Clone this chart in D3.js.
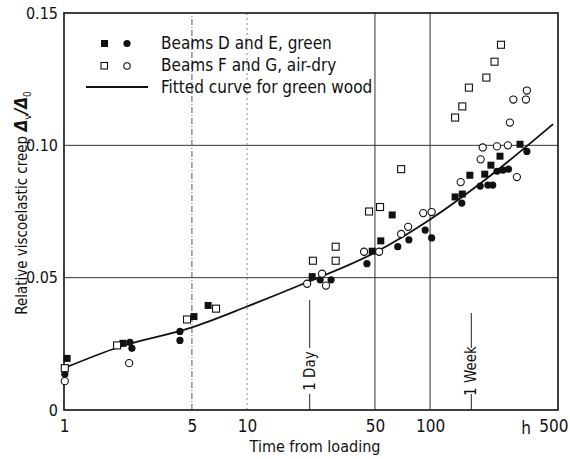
<!DOCTYPE html>
<html>
<head>
<meta charset="utf-8">
<script src="https://cdn.jsdelivr.net/npm/d3@7"></script>
<style>
  body { margin: 0; background: #fff; }
  svg text { font-family: "Liberation Sans Narrow", "DejaVu Sans Condensed", "Roboto Condensed", sans-serif; fill: #111; }
</style>
</head>
<body>
<div id="chart"></div>
<script>
// ---- data (time in h, relative creep) ----
const greenSqT = [1.04, 2.10, 5.13, 6.13, 22.7, 48.3, 53.8, 62.1, 137, 150, 165, 199, 215, 241, 310];
const greenSqV = [0.0195, 0.0252, 0.0353, 0.0395, 0.0504, 0.060, 0.0639, 0.0737, 0.0805, 0.0816, 0.0887, 0.0891, 0.0925, 0.0959, 0.1004];

const greenCircT = [1.01, 2.29, 2.35, 4.30, 4.30, 25.1, 28.8, 45.2, 66.6, 76.6, 94, 102, 149, 188, 207, 220, 232, 250, 268, 338];
const greenCircV = [0.0135, 0.0256, 0.0233, 0.0297, 0.0263, 0.0492, 0.0492, 0.0553, 0.0617, 0.0643, 0.068, 0.065, 0.0782, 0.0846, 0.085, 0.085, 0.0902, 0.0906, 0.091, 0.0977];

const drySqT = [1.01, 1.95, 4.70, 6.77, 22.9, 30.5, 30.5, 46.4, 53.3, 69.5, 137, 150, 163, 203, 225, 244];
const drySqV = [0.0158, 0.0244, 0.0342, 0.0383, 0.0564, 0.0564, 0.0617, 0.0750, 0.0767, 0.091, 0.1105, 0.1147, 0.1218, 0.1256, 0.1316, 0.138];

const dryCircT = [1.01, 2.27, 21.3, 25.7, 27.0, 43.6, 52.7, 69.5, 75.9, 91.7, 102, 147, 189, 194, 232, 266, 298, 273, 285, 334, 338];
const dryCircV = [0.0109, 0.0177, 0.0477, 0.0515, 0.047, 0.0598, 0.0598, 0.0665, 0.0692, 0.0744, 0.0748, 0.0861, 0.0947, 0.0992, 0.0996, 0.1, 0.088, 0.1086, 0.1173, 0.1173, 0.1207];

// fitted curve for green wood
const fitT = [1, 2, 5, 10, 20, 50, 100, 200, 470];
const fitV = [0.0158, 0.0238, 0.0312, 0.0391, 0.0475, 0.0595, 0.072, 0.087, 0.108];

const xTicks = [1, 5, 10, 50, 100, 500];
const yTicks = [0, 0.05, 0.10, 0.15];
const markers = [{ t: 22, label: "1 Day" }, { t: 168, label: "1 Week" }];

const legendRows = ["Beams D and E, green", "Beams F and G, air-dry", "Fitted curve for green wood"];

// ---- setup ----
const width = 570, height = 459;
const margin = { left: 64, right: 12, top: 13, bottom: 49 };

const svg = d3.select('#chart').append('svg')
  .attr('width', width)
  .attr('height', height);

const x = d3.scaleLog().domain([1, 500]).range([margin.left, width - margin.right]);
const y = d3.scaleLinear().domain([0, 0.15]).range([height - margin.bottom, margin.top]);

const zip = (ts, vs) => ts.map((t, i) => ({ t: t, v: vs[i] }));

// grid lines
const grid = svg.append('g');
grid.selectAll('line.h').data([0.05, 0.10]).enter().append('line')
  .attr('x1', x(1)).attr('x2', x(500))
  .attr('y1', d => y(d)).attr('y2', d => y(d))
  .attr('stroke', '#333').attr('stroke-width', 1);

const vgrid = [
  { t: 5, dash: '6,2,1,2', col: '#555' },
  { t: 10, dash: '2,3', col: '#888' },
  { t: 50, dash: null, col: '#333' },
  { t: 100, dash: null, col: '#333' }
];
grid.selectAll('line.v').data(vgrid).enter().append('line')
  .attr('x1', d => x(d.t)).attr('x2', d => x(d.t))
  .attr('y1', y(0)).attr('y2', y(0.15))
  .attr('stroke', d => d.col).attr('stroke-width', 1)
  .attr('stroke-dasharray', d => d.dash);

// frame
svg.append('rect')
  .attr('x', x(1)).attr('y', y(0.15))
  .attr('width', x(500) - x(1)).attr('height', y(0) - y(0.15))
  .attr('fill', 'none').attr('stroke', '#111').attr('stroke-width', 1.6);

// axes (labels only)
const xAxis = svg.append('g')
  .attr('transform', `translate(0,${y(0)})`)
  .call(d3.axisBottom(x).tickValues(xTicks).tickSize(0).tickPadding(10).tickFormat(d3.format('d')));
xAxis.select('.domain').remove();
xAxis.selectAll('text').attr('font-size', 17);
// last label sits partly past the frame, keep it inside the page
xAxis.selectAll('.tick').filter(d => d === 500).select('text')
  .attr('text-anchor', 'end').attr('x', 10);

svg.append('text').attr('x', x(500) - 27).attr('y', y(0) + 24)
  .attr('text-anchor', 'end').attr('font-size', 17).text('h');

const yAxis = svg.append('g')
  .attr('transform', `translate(${x(1)},0)`)
  .call(d3.axisLeft(y).tickValues(yTicks).tickSize(0).tickPadding(6)
    .tickFormat(d => d === 0 ? '0' : d3.format('.2f')(d)));
yAxis.select('.domain').remove();
yAxis.selectAll('text').attr('font-size', 16);

// axis titles
svg.append('text')
  .attr('x', 315).attr('y', 452)
  .attr('text-anchor', 'middle').attr('font-size', 16)
  .text('Time from loading');

const yt = svg.append('text')
  .attr('transform', 'translate(27,203) rotate(-90)')
  .attr('text-anchor', 'middle').attr('font-size', 15);
yt.append('tspan').text('Relative viscoelastic creep ');
yt.append('tspan').attr('font-weight', 'bold').attr('font-style', 'italic').attr('font-size', 17).text('Δ');
yt.append('tspan').attr('font-size', 10).attr('dy', 4).text('v');
yt.append('tspan').attr('font-weight', 'bold').attr('font-style', 'italic').attr('font-size', 17).attr('dy', -4).text('/Δ');
yt.append('tspan').attr('font-size', 10).attr('dy', 4).text('0');

// 1 day / 1 week markers
const mk = svg.append('g').selectAll('g').data(markers).enter().append('g');
mk.append('line')
  .attr('x1', d => x(d.t)).attr('x2', d => x(d.t))
  .attr('y1', (d, i) => i ? 313 : 300).attr('y2', 348)
  .attr('stroke', '#222').attr('stroke-width', 1);
mk.append('line')
  .attr('x1', d => x(d.t)).attr('x2', d => x(d.t))
  .attr('y1', 394).attr('y2', y(0))
  .attr('stroke', '#222').attr('stroke-width', 1);
mk.append('text')
  .attr('transform', d => `translate(${x(d.t) + 5},371) rotate(-90)`)
  .attr('text-anchor', 'middle').attr('font-size', 15)
  .text(d => d.label);

// fitted curve
const line = d3.line().x(d => x(d.t)).y(d => y(d.v)).curve(d3.curveMonotoneX);
svg.append('path').datum(zip(fitT, fitV))
  .attr('d', line).attr('fill', 'none')
  .attr('stroke', '#111').attr('stroke-width', 1.8);

// points
const pts = svg.append('g');
pts.selectAll('rect.gs').data(zip(greenSqT, greenSqV)).enter().append('rect')
  .attr('x', d => x(d.t) - 3.5).attr('y', d => y(d.v) - 3.5)
  .attr('width', 7).attr('height', 7).attr('fill', '#111');
pts.selectAll('circle.gc').data(zip(greenCircT, greenCircV)).enter().append('circle')
  .attr('cx', d => x(d.t)).attr('cy', d => y(d.v)).attr('r', 3.6).attr('fill', '#111');
pts.selectAll('rect.ds').data(zip(drySqT, drySqV)).enter().append('rect')
  .attr('x', d => x(d.t) - 3.5).attr('y', d => y(d.v) - 3.5)
  .attr('width', 7).attr('height', 7).attr('fill', '#fff')
  .attr('stroke', '#111').attr('stroke-width', 1.1);
pts.selectAll('circle.dc').data(zip(dryCircT, dryCircV)).enter().append('circle')
  .attr('cx', d => x(d.t)).attr('cy', d => y(d.v)).attr('r', 3.6)
  .attr('fill', '#fff').attr('stroke', '#111').attr('stroke-width', 1.1);

// legend
const lg = svg.append('g');
lg.append('rect').attr('x', 101).attr('y', 40).attr('width', 7).attr('height', 7).attr('fill', '#111');
lg.append('circle').attr('cx', 127).attr('cy', 43.5).attr('r', 3.6).attr('fill', '#111');
lg.append('rect').attr('x', 101).attr('y', 62.5).attr('width', 6.5).attr('height', 6.5)
  .attr('fill', '#fff').attr('stroke', '#111').attr('stroke-width', 1.1);
lg.append('circle').attr('cx', 127).attr('cy', 66).attr('r', 3.2)
  .attr('fill', '#fff').attr('stroke', '#111').attr('stroke-width', 1.1);
lg.append('line').attr('x1', 86).attr('x2', 148).attr('y1', 87).attr('y2', 87)
  .attr('stroke', '#111').attr('stroke-width', 1.8);
lg.selectAll('text').data(legendRows).enter().append('text')
  .attr('x', 161).attr('y', (d, i) => 49 + i * 22)
  .attr('font-size', 17)
  .text(d => d);
</script>
</body>
</html>
